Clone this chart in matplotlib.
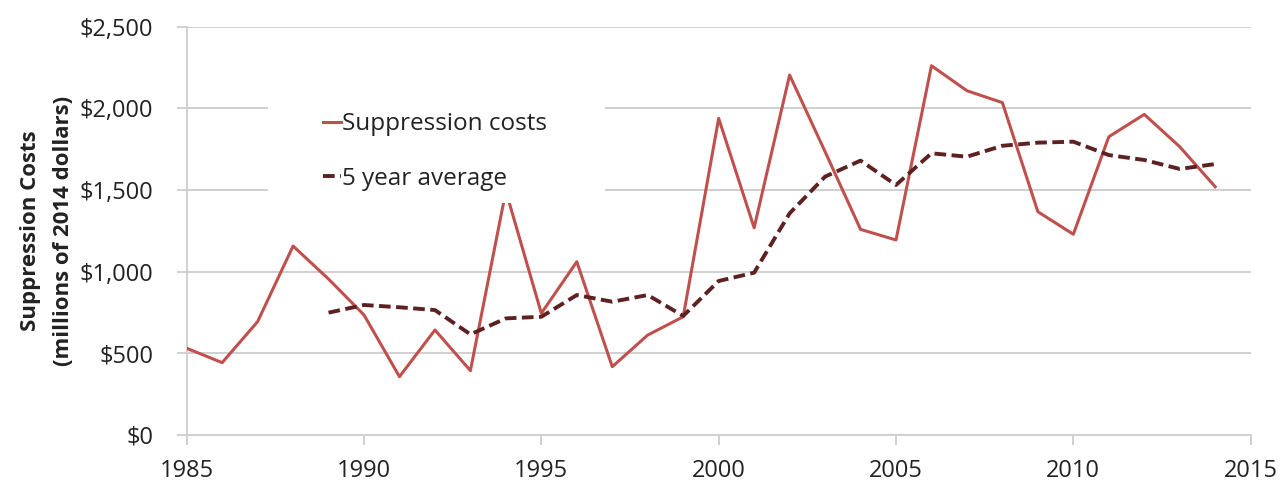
import matplotlib
matplotlib.use('Agg')
import matplotlib.pyplot as plt
from matplotlib.patches import Rectangle
from matplotlib.ticker import FuncFormatter

# data (millions of 2014 dollars)
years = list(range(1985, 2015))
suppression_costs = [531, 443, 694, 1157, 955, 735, 357, 643, 394, 1494,
                     745, 1061, 418, 612, 724, 1939, 1269, 2204, 1735, 1259,
                     1194, 2261, 2108, 2035, 1367, 1229, 1826, 1963, 1765, 1520]
avg_years = list(range(1989, 2015))
five_year_avg = [749, 796, 782, 765, 616, 714, 724, 857, 816, 857,
                 729, 943, 994, 1357, 1582, 1680, 1531, 1725, 1704, 1771,
                 1790, 1796, 1714, 1684, 1629, 1659]

plt.rcParams['font.family'] = ['Open Sans', 'DejaVu Sans']

fig = plt.figure(figsize=(12.83, 4.83), dpi=100)
ax = fig.add_axes([0.1455, 0.0994, 0.8293, 0.8453])

grid_color = '#d0d0d0'
text_color = '#222222'
ax.plot(years, suppression_costs, color='#C0504D', linewidth=2.2,
        label='Suppression costs', zorder=3)
ax.plot(avg_years, five_year_avg, color='#5E2121', linewidth=2.8,
        linestyle=(0, (3, 1.4)), label='5 year average', zorder=3)

ax.set_xlim(1985, 2015)
ax.set_ylim(0, 2500)
ax.set_xticks(range(1985, 2016, 5))
ax.set_yticks(range(0, 2501, 500))
ax.yaxis.set_major_formatter(FuncFormatter(lambda v, p: f'${v:,.0f}'))

ax.grid(axis='y', color=grid_color, linewidth=1.4, zorder=0)
ax.set_axisbelow(True)
for side in ['top', 'right']:
    ax.spines[side].set_visible(False)
for side in ['left', 'bottom']:
    ax.spines[side].set_color(grid_color)
    ax.spines[side].set_linewidth(1.4)
ax.tick_params(axis='both', colors=grid_color, labelcolor=text_color,
               labelsize=17, width=1.4, length=7)
ax.tick_params(axis='y', pad=17)
ax.tick_params(axis='x', pad=10)

ax.set_ylabel('Suppression Costs\n(millions of 2014 dollars)', fontsize=16,
              fontweight='bold', color=text_color, labelpad=4, linespacing=1.75)

# white box behind the legend (hides gridlines like the original)
ax.add_patch(Rectangle((0.0764, 0.568), 0.3167, 0.262, transform=ax.transAxes,
                       facecolor='white', edgecolor='none', zorder=4))

leg = ax.legend(loc='upper left', bbox_to_anchor=(0.128, 0.79), fontsize=17.5,
                frameon=False, handlelength=0.75, handletextpad=0.05,
                labelspacing=1.25, borderpad=0, borderaxespad=0)
leg.set_zorder(5)
for t in leg.get_texts():
    t.set_color(text_color)

plt.savefig('out.png', dpi=100, facecolor='white')
plt.close(fig)
